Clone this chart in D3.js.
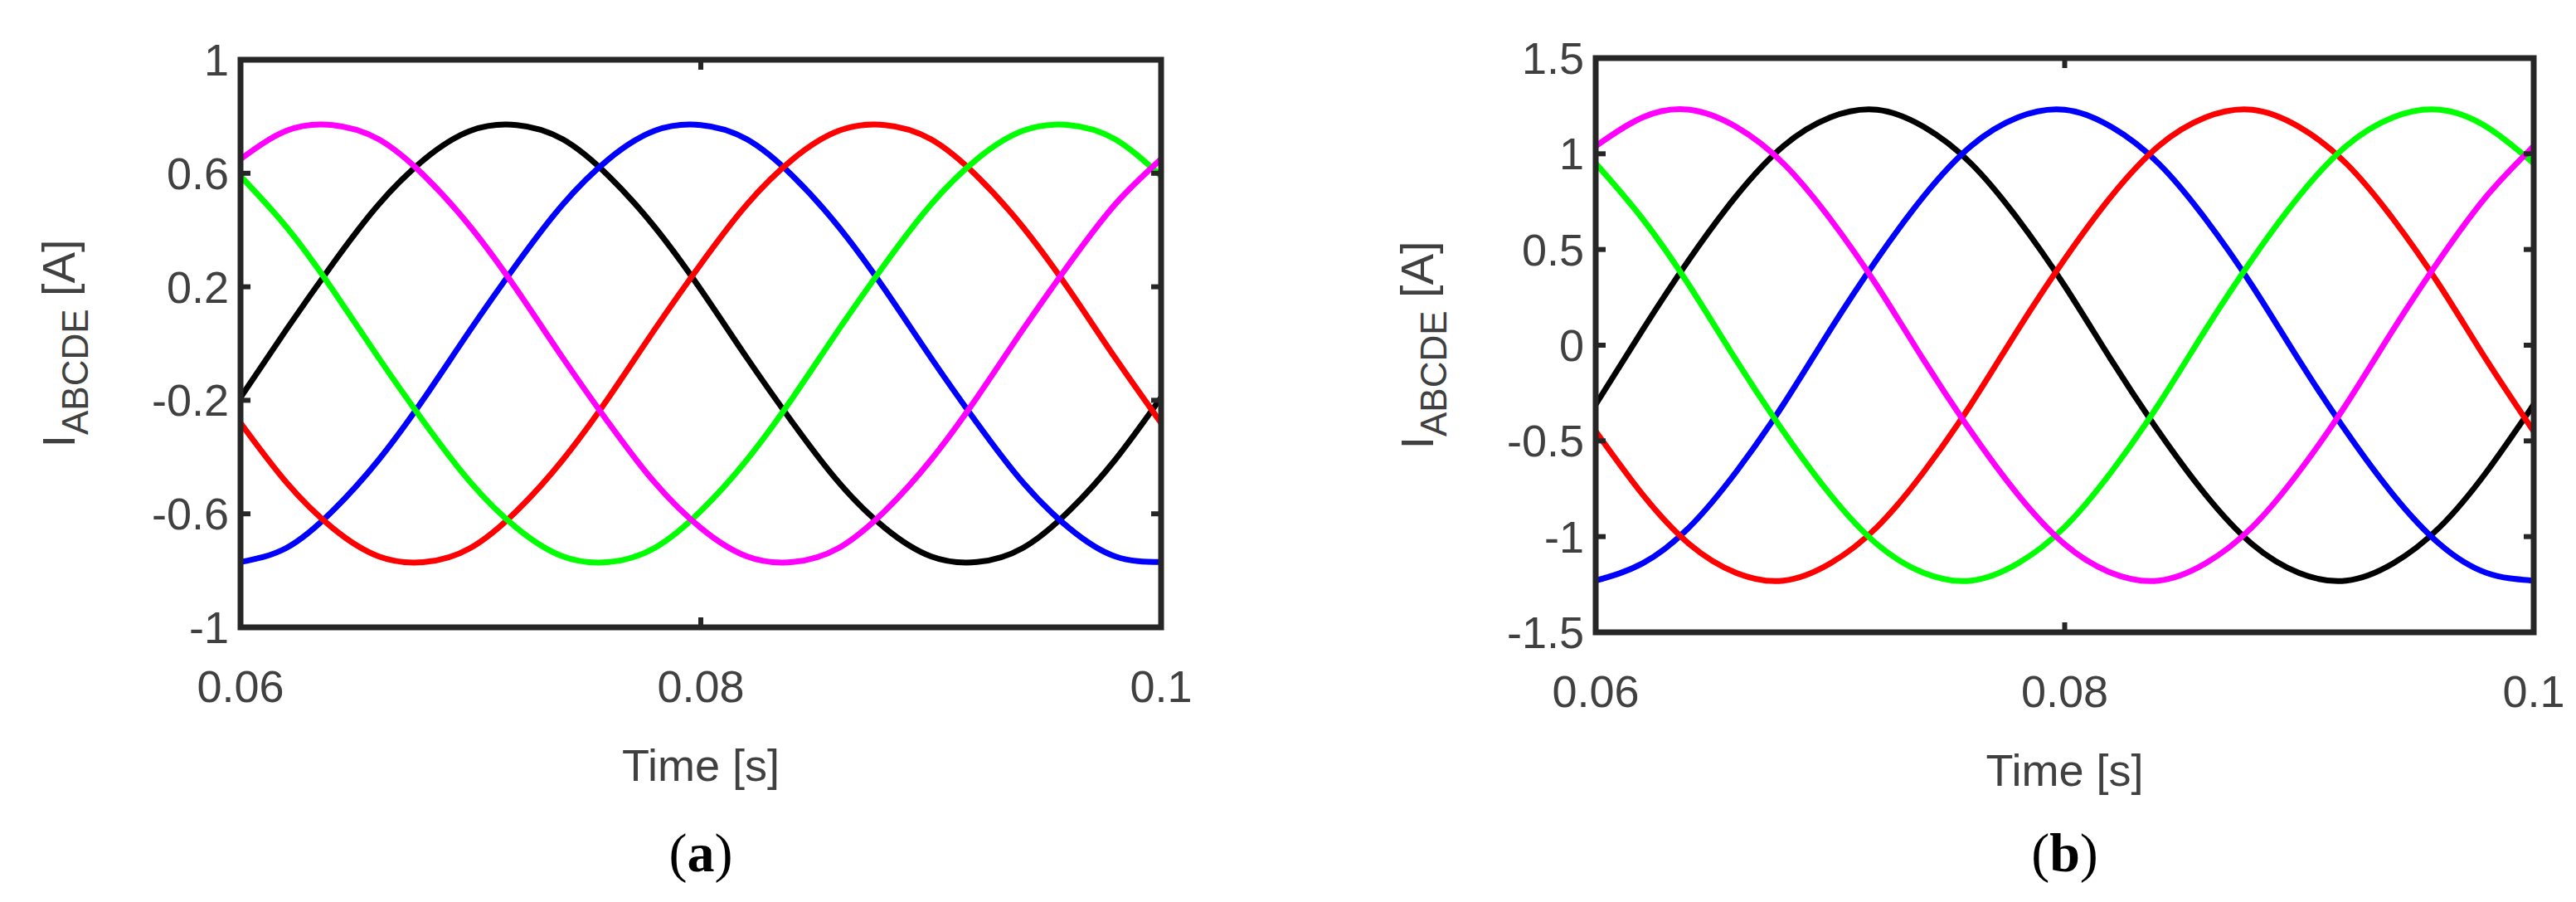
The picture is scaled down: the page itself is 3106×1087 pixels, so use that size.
<!DOCTYPE html>
<html>
<head>
<meta charset="utf-8">
<script src="https://cdn.jsdelivr.net/npm/d3@7"></script>
<style>
  body { margin: 0; background: #fff; }
  text { font-family: "Liberation Sans Narrow", "Liberation Sans", Arial, sans-serif; fill: #404040; }
</style>
</head>
<body>
<svg id="chart" width="3106" height="1087"></svg>
<script>
// time samples shared by both panels
var time = d3.range(21).map(function (i) { return +(0.06 + i * 0.002).toFixed(3); });

// panel (a) currents [A]
var aBlack   = [-0.19,0.05,0.28,0.49,0.65,0.75,0.77,0.72,0.59,0.41,0.19,-0.05,-0.28,-0.49,-0.65,-0.75,-0.77,-0.72,-0.59,-0.41,-0.19];
var aBlue    = [-0.77,-0.72,-0.59,-0.41,-0.19,0.05,0.28,0.49,0.65,0.75,0.77,0.72,0.59,0.41,0.19,-0.05,-0.28,-0.49,-0.65,-0.75,-0.77];
var aRed     = [-0.28,-0.49,-0.65,-0.75,-0.77,-0.72,-0.59,-0.41,-0.19,0.05,0.28,0.49,0.65,0.75,0.77,0.72,0.59,0.41,0.19,-0.05,-0.28];
var aGreen   = [0.59,0.41,0.19,-0.05,-0.28,-0.49,-0.65,-0.75,-0.77,-0.72,-0.59,-0.41,-0.19,0.05,0.28,0.49,0.65,0.75,0.77,0.72,0.59];
var aMagenta = [0.65,0.75,0.77,0.72,0.59,0.41,0.19,-0.05,-0.28,-0.49,-0.65,-0.75,-0.77,-0.72,-0.59,-0.41,-0.19,0.05,0.28,0.49,0.65];

// panel (b) currents [A]
var bBlack   = [-0.31,0.08,0.45,0.78,1.04,1.19,1.23,1.14,0.95,0.66,0.31,-0.08,-0.45,-0.78,-1.04,-1.19,-1.23,-1.14,-0.95,-0.66,-0.31];
var bBlue    = [-1.23,-1.14,-0.95,-0.66,-0.31,0.08,0.45,0.78,1.04,1.19,1.23,1.14,0.95,0.66,0.31,-0.08,-0.45,-0.78,-1.04,-1.19,-1.23];
var bRed     = [-0.45,-0.78,-1.04,-1.19,-1.23,-1.14,-0.95,-0.66,-0.31,0.08,0.45,0.78,1.04,1.19,1.23,1.14,0.95,0.66,0.31,-0.08,-0.45];
var bGreen   = [0.95,0.66,0.31,-0.08,-0.45,-0.78,-1.04,-1.19,-1.23,-1.14,-0.95,-0.66,-0.31,0.08,0.45,0.78,1.04,1.19,1.23,1.14,0.95];
var bMagenta = [1.04,1.19,1.23,1.14,0.95,0.66,0.31,-0.08,-0.45,-0.78,-1.04,-1.19,-1.23,-1.14,-0.95,-0.66,-0.31,0.08,0.45,0.78,1.04];

var colors = ["#000000", "#0000ff", "#ff0000", "#00ff00", "#ff00ff"];
var xTicks = [0.06, 0.08, 0.1];
var aTicks = [-1, -0.6, -0.2, 0.2, 0.6, 1];
var bTicks = [-1.5, -1, -0.5, 0, 0.5, 1, 1.5];

var svg = d3.select("#chart");

function drawPanel(box, yDomain, yTicks, series, tag, ylabX) {
  var x = d3.scaleLinear().domain([0.06, 0.1]).range([box.x0, box.x1]);
  var y = d3.scaleLinear().domain(yDomain).range([box.y1, box.y0]);
  var g = svg.append("g");

  var line = d3.line()
    .x(function (d, i) { return x(time[i]); })
    .y(function (d) { return y(d); })
    .curve(d3.curveNatural);

  g.selectAll("path.s")
    .data(series)
    .enter()
    .append("path")
    .attr("class", "s")
    .attr("d", line)
    .attr("fill", "none")
    .attr("stroke", function (d, i) { return colors[i]; })
    .attr("stroke-width", 7);

  // tick marks, inside on both sides
  yTicks.forEach(function (v) {
    g.append("line").attr("x1", box.x0).attr("x2", box.x0 + 12).attr("y1", y(v)).attr("y2", y(v)).attr("stroke", "#262626").attr("stroke-width", 6);
    g.append("line").attr("x1", box.x1).attr("x2", box.x1 - 12).attr("y1", y(v)).attr("y2", y(v)).attr("stroke", "#262626").attr("stroke-width", 6);
    g.append("text").attr("x", box.x0 - 14).attr("y", y(v) + 19)
      .attr("text-anchor", "end").attr("font-size", 54).text(v);
  });
  xTicks.forEach(function (v) {
    g.append("line").attr("x1", x(v)).attr("x2", x(v)).attr("y1", box.y1).attr("y2", box.y1 - 12).attr("stroke", "#262626").attr("stroke-width", 6);
    g.append("line").attr("x1", x(v)).attr("x2", x(v)).attr("y1", box.y0).attr("y2", box.y0 + 12).attr("stroke", "#262626").attr("stroke-width", 6);
    g.append("text").attr("x", x(v)).attr("y", box.y1 + 90)
      .attr("text-anchor", "middle").attr("font-size", 54).text(v);
  });

  g.append("rect")
    .attr("x", box.x0).attr("y", box.y0)
    .attr("width", box.x1 - box.x0).attr("height", box.y1 - box.y0)
    .attr("fill", "none").attr("stroke", "#262626").attr("stroke-width", 7);

  var mid = (box.x0 + box.x1) / 2;
  g.append("text").attr("x", mid).attr("y", box.y1 + 185)
    .attr("text-anchor", "middle").attr("font-size", 54).text("Time [s]");

  var yl = g.append("text")
    .attr("transform", "translate(" + ylabX + "," + ((box.y0 + box.y1) / 2) + ") rotate(-90)")
    .attr("text-anchor", "middle").attr("font-size", 56);
  yl.append("tspan").text("I");
  yl.append("tspan").attr("font-size", 44).attr("dy", 16).text("ABCDE");
  yl.append("tspan").attr("dy", -16).text(" [A]");

  var cap = g.append("text").attr("x", mid).attr("y", 1050)
    .attr("text-anchor", "middle").attr("font-size", 66)
    .style("font-family", "Liberation Serif, serif").style("fill", "#000");
  cap.append("tspan").text("(");
  cap.append("tspan").attr("font-weight", "bold").text(tag);
  cap.append("tspan").text(")");
}

drawPanel({ x0: 290, x1: 1400, y0: 72, y1: 756 }, [-1, 1], aTicks,
  [aBlack, aBlue, aRed, aGreen, aMagenta], "a", 90);
drawPanel({ x0: 1924, x1: 3055, y0: 70, y1: 762 }, [-1.5, 1.5], bTicks,
  [bBlack, bBlue, bRed, bGreen, bMagenta], "b", 1728);
</script>
</body>
</html>
